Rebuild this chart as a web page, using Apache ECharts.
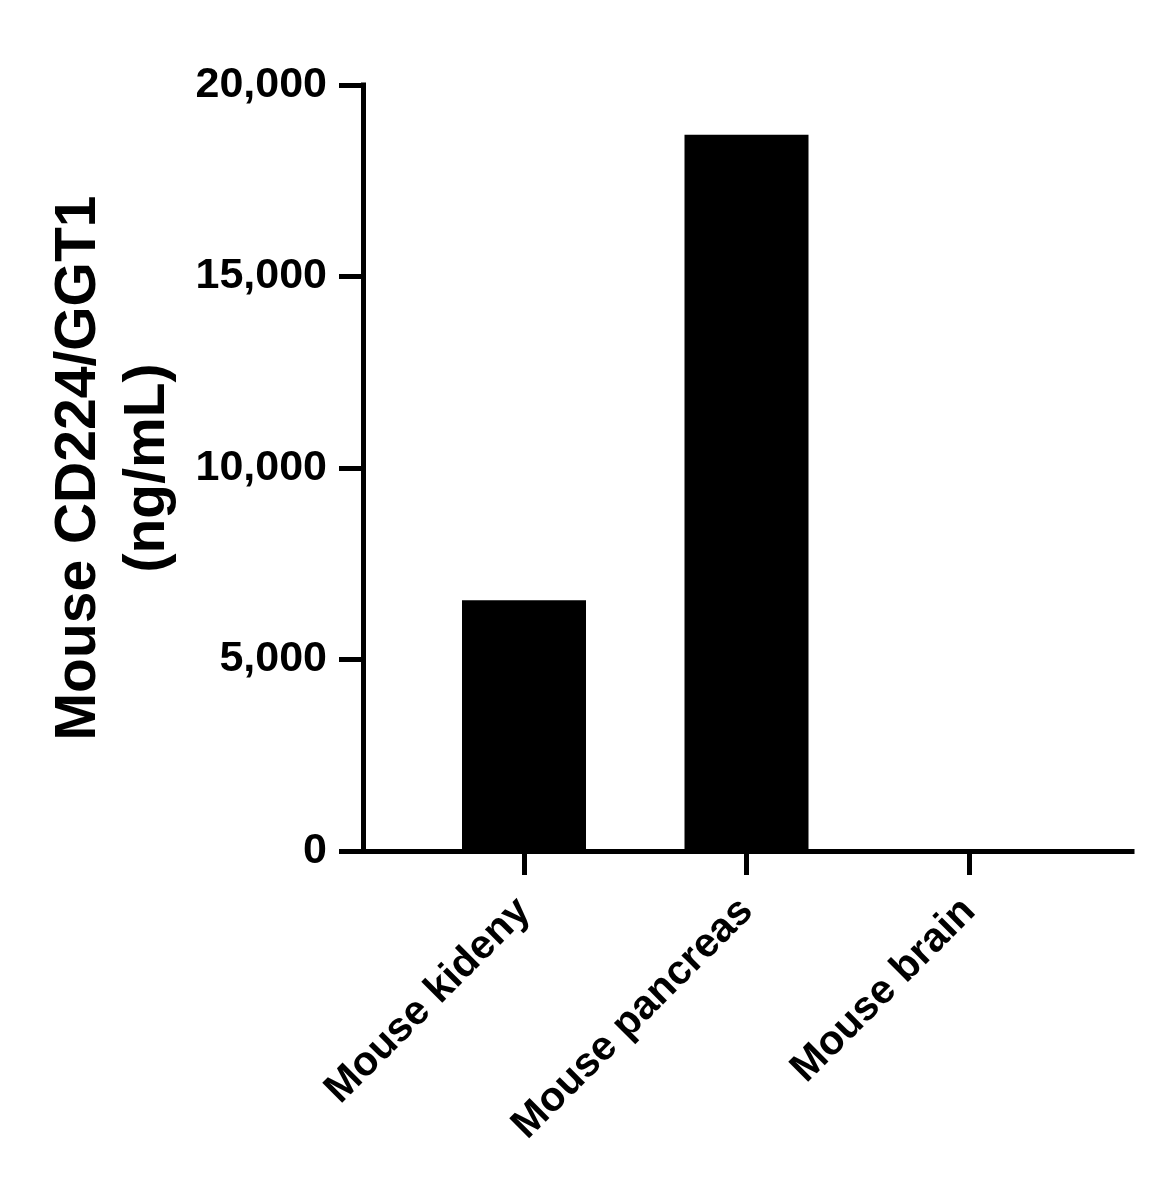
<!DOCTYPE html>
<html>
<head>
<meta charset="utf-8">
<script src="https://cdn.jsdelivr.net/npm/echarts@6/dist/echarts.min.js"></script>
<style>
html,body{margin:0;padding:0;background:#fff;}
#chart{width:1161px;height:1183px;}
</style>
</head>
<body>
<div id="chart"></div>
<script>
const categories = ['Mouse kideny', 'Mouse pancreas', 'Mouse brain'];
const values = [6550, 18700, 0];
const yMin = 0;
const yMax = 20000;
const yInterval = 5000;
const yTitle = 'Mouse CD224/GGT1\n(ng/mL)';

const FONT = '"Liberation Sans", Arial, Helvetica, sans-serif';
const chart = echarts.init(document.getElementById('chart'), null, {renderer: 'canvas'});

const axisLineStyle = {color: '#000', width: 5, cap: 'square'};

chart.setOption({
  backgroundColor: '#fff',
  animation: false,
  grid: [
    {left: 363, right: 29, top: 85, bottom: 332, containLabel: false},
    {left: 412.75, right: 80.75, top: 85, bottom: 332, containLabel: false}
  ],
  xAxis: [
    {
      gridIndex: 0, type: 'value', min: 0, max: 1,
      axisLine: {show: true, onZero: false, lineStyle: axisLineStyle},
      axisTick: {show: false}, axisLabel: {show: false}, splitLine: {show: false}
    },
    {
      gridIndex: 1, type: 'category', data: categories,
      axisLine: {show: true, onZero: false, lineStyle: {color: '#000', width: 5}},
      axisTick: {show: true, alignWithLabel: true, length: 24, lineStyle: {color: '#000', width: 5}},
      axisLabel: {
        rotate: 45, interval: 0, margin: 54,
        color: '#000', fontFamily: FONT, fontWeight: 'bold', fontSize: 41
      },
      splitLine: {show: false}
    }
  ],
  yAxis: [
    {
      gridIndex: 0, type: 'value', min: yMin, max: yMax, interval: yInterval,
      axisLine: {show: true, onZero: false, lineStyle: axisLineStyle},
      axisTick: {show: true, length: 24, lineStyle: {color: '#000', width: 5}},
      axisLabel: {
        margin: 36, color: '#000', fontFamily: FONT, fontWeight: 'bold', fontSize: 43,
        formatter: v => v.toLocaleString('en-US')
      },
      splitLine: {show: false},
      name: yTitle,
      nameLocation: 'middle',
      nameRotate: 90,
      nameGap: 180,
      nameTextStyle: {color: '#000', fontFamily: FONT, fontWeight: 'bold', fontSize: 57, lineHeight: 69, align: 'center'}
    },
    {
      gridIndex: 1, type: 'value', min: yMin, max: yMax, show: false
    }
  ],
  series: [
    {
      type: 'bar', xAxisIndex: 1, yAxisIndex: 1,
      data: values, barWidth: 124,
      itemStyle: {color: '#000'}
    }
  ]
});
</script>
</body>
</html>
